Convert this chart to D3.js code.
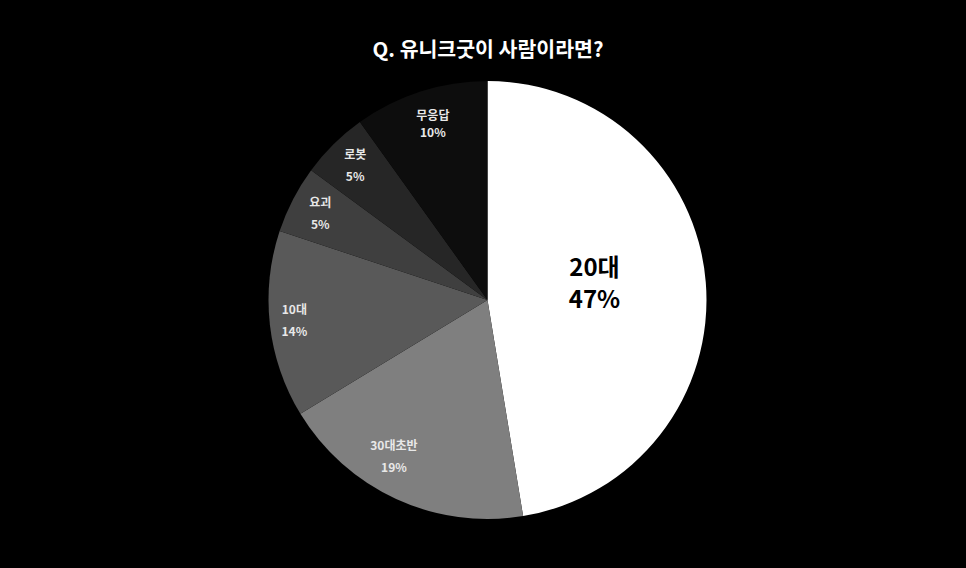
<!DOCTYPE html>
<html><head><meta charset="utf-8">
<script src="https://cdn.jsdelivr.net/npm/d3@7"></script>
<style>html,body{margin:0;padding:0;background:#000;}</style>
</head><body>
<svg id="chart" width="966" height="568"></svg>
<script>
const categories = ["20대", "30대초반", "10대", "요괴", "로봇", "무응답"];
const values = [47.4, 18.9, 13.8, 5.0, 5.0, 9.9];
const colors = ["#ffffff", "#7f7f7f", "#595959", "#3f3f3f", "#262626", "#0d0d0d"];
const title = "Q. 유니크굿이 사람이라면?";

const W = 966, H = 568, cx = 487.5, cy = 300, R = 219;
const svg = d3.select("#chart");
svg.append("rect").attr("width", W).attr("height", H).attr("fill", "#000");
const font = "'Noto Sans CJK KR', 'Noto Sans', sans-serif";

svg.append("text").attr("x", 488).attr("y", 57).attr("text-anchor", "middle")
  .attr("fill", "#fff").attr("font-family", font)
  .attr("font-weight", "bold").attr("font-size", 20.5).text(title);

const data = categories.map((c, i) => ({cat: c, val: values[i], color: colors[i]}));
const pie = d3.pie().value(d => d.val).sort(null);
const arcs = pie(data);
const arc = d3.arc().innerRadius(0).outerRadius(R);
const g = svg.append("g").attr("transform", `translate(${cx},${cy})`);
g.selectAll("path").data(arcs).join("path").attr("d", arc).attr("fill", d => d.data.color);

const labelArcSmall = d3.arc().innerRadius(R * 0.86).outerRadius(R * 0.86);
const labelArcBig = d3.arc().innerRadius(R * 0.49).outerRadius(R * 0.49);
// small layout adjustments of label placement
const nudge = {"20대": [0, -8], "30대초반": [-15, -14], "10대": [-6, 0], "무응답": [3, 4]};
arcs.forEach((a, i) => {
  const big = i === 0;
  let [x, y] = (big ? labelArcBig : labelArcSmall).centroid(a);
  const n = nudge[a.data.cat] || [0, 0];
  x += n[0]; y += n[1];
  const fs = big ? 24 : 12;
  const gap = big ? 16 : (a.data.cat === "무응답" ? 8.5 : 11);
  const t = g.append("text").attr("text-anchor", "middle")
    .attr("font-family", font).attr("font-weight", "bold").attr("font-size", fs)
    .attr("fill", big ? "#000" : "#e8e8e8");
  t.append("tspan").attr("x", x).attr("y", y - gap).attr("dy", "0.35em").text(a.data.cat);
  t.append("tspan").attr("x", x).attr("y", y + gap).attr("dy", "0.35em").text(Math.round(a.data.val) + "%");
});
</script>
</body></html>
